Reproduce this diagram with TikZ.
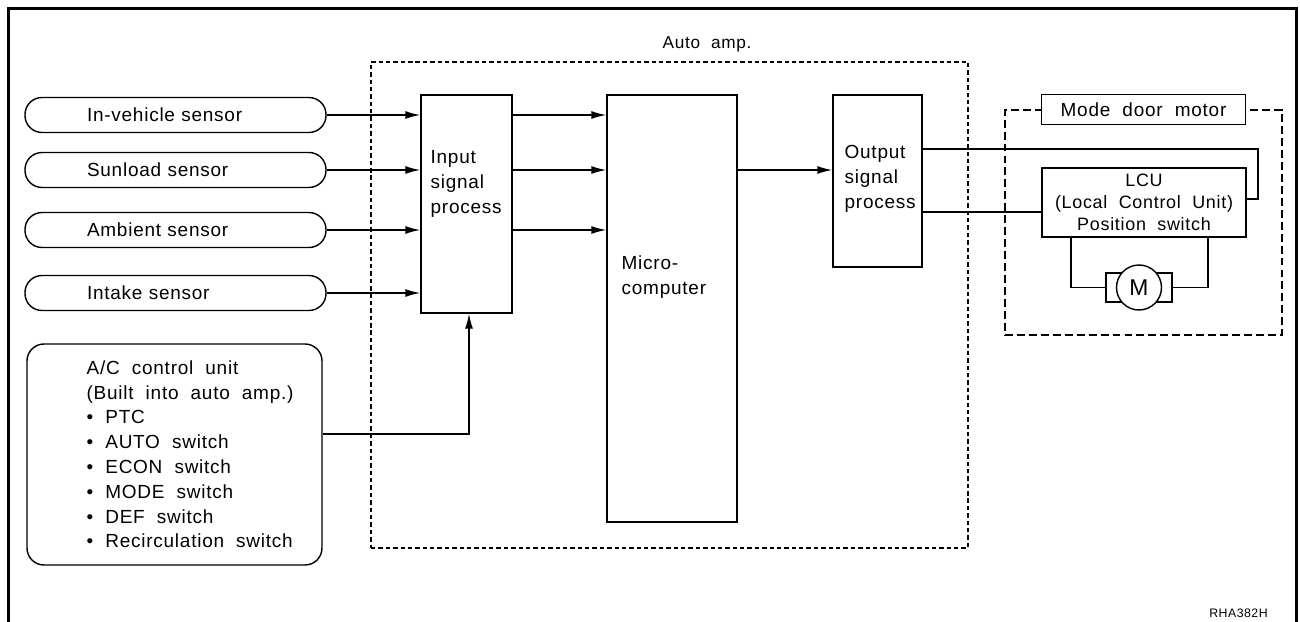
\documentclass[tikz,border=0pt]{standalone}
\usepackage{fontspec}
\setmainfont{Liberation Sans}[WordSpace=2,LetterSpace=4]
\usetikzlibrary{arrows.meta,positioning}

\begin{document}
\begin{tikzpicture}[>={Latex[length=3mm,width=1.6mm]},
  font=\fontsize{10.8}{14.1}\selectfont,
  sensor/.style={draw,line width=0.8pt,rounded corners=0.34cm,minimum height=0.7cm,inner xsep=1.24cm,text width=3.54cm,align=left},
  block/.style={draw,line width=0.8pt,inner sep=0pt},
  txt/.style={align=left,inner sep=0pt},
  wire/.style={line width=0.8pt},
  arrow/.style={->,line width=0.8pt}]
  \useasboundingbox (0,0) rectangle (26,-12.44);
  % frame, open at the bottom
  \draw[line width=1.7pt] (0.17,-12.44) -- (0.17,-0.17) -- (25.93,-0.17) -- (25.93,-12.44);

  % auto amp.
  \node[draw,line width=0.7pt,dash pattern=on 2.5pt off 1.7pt,minimum width=11.94cm,minimum height=9.72cm] (amp) at (13.39,-6.10) {};
  \node[font=\fontsize{9.8}{11}\selectfont] (amplbl) at (14.14,-0.88) {Auto amp.};

  % sensors
  \node[sensor] (s1) at (3.51,-2.30) {In-vehicle sensor};
  \node[sensor] (s2) at (3.51,-3.40) {Sunload sensor};
  \node[sensor] (s3) at (3.51,-4.60) {Ambient sensor};
  \node[sensor] (s4) at (3.51,-5.86) {Intake sensor};

  \node[block,rounded corners=0.34cm,minimum width=5.9cm,minimum height=4.42cm] (acu) at (3.49,-9.09) {};
  \node[txt,below right=0.34cm and 1.2cm of acu.north west] (acutxt) {A/C control unit\\(Built into auto amp.)\\\textbullet\ PTC\\\textbullet\ AUTO switch\\\textbullet\ ECON switch\\\textbullet\ MODE switch\\\textbullet\ DEF switch\\\textbullet\ Recirculation switch};

  % processing blocks
  \node[block,minimum width=1.82cm,minimum height=4.36cm] (inp) at (9.33,-4.08) {};
  \node[txt,below right=1.12cm and 0.2cm of inp.north west] (inptxt) {Input\\signal\\process};
  \node[block,minimum width=2.6cm,minimum height=8.54cm] (mc) at (13.44,-6.17) {};
  \node[txt,below right=3.22cm and 0.3cm of mc.north west] (mctxt) {Micro-\\computer};
  \node[block,minimum width=1.78cm,minimum height=3.44cm] (out) at (17.55,-3.62) {};
  \node[txt,below right=1.02cm and 0.24cm of out.north west] (outtxt) {Output\\signal\\process};

  \draw[arrow] (s1.east) -- (s1.east -| inp.west);
  \draw[arrow] (s2.east) -- (s2.east -| inp.west);
  \draw[arrow] (s3.east) -- (s3.east -| inp.west);
  \draw[arrow] (s4.east) -- (s4.east -| inp.west);
  \draw[arrow] ([yshift=0.41cm]acu.east) -| ([xshift=0.05cm]inp.south);
  \draw[arrow] (inp.east |- s1.east) -- (mc.west |- s1.east);
  \draw[arrow] (inp.east |- s2.east) -- (mc.west |- s2.east);
  \draw[arrow] (inp.east |- s3.east) -- (mc.west |- s3.east);
  \draw[arrow] (mc.east |- s2.east) -- (out.west |- s2.east);

  % mode door motor
  \node[draw,line width=0.7pt,dash pattern=on 4.5pt off 2.3pt,minimum width=5.54cm,minimum height=4.5cm] (mdm) at (22.87,-4.45) {};
  \node[block,fill=white,minimum width=4.08cm,minimum height=0.6cm] (mdlbl) at (mdm.north) {Mode door motor};
  \node[block,minimum width=4.08cm,minimum height=1.38cm,align=center,font=\fontsize{10.2}{12.6}\selectfont] (lcu) at (22.88,-4.05) {LCU\\(Local Control Unit)\\Position switch};
  \node[block,minimum width=1.32cm,minimum height=0.58cm] (mot) at (22.78,-5.75) {};
  \node[draw,circle,fill=white,line width=0.8pt,minimum size=0.9cm,inner sep=0pt,font=\fontsize{13}{13}\selectfont] (m) at (mot) {M};

  \coordinate (bend) at (25.16,-2.98);
  \draw[wire] (out.east |- bend) -- (bend) |- ([yshift=0.07cm]lcu.east);
  \draw[wire] ([yshift=-0.19cm]lcu.west) -- ([yshift=-0.19cm]lcu.west -| out.east);
  \draw[wire] ([xshift=-1.46cm]lcu.south) |- (mot.west);
  \draw[wire] ([xshift=1.28cm]lcu.south) |- (mot.east);

  \node[font=\fontsize{7}{8}\selectfont] (code) at (24.77,-12.26) {RHA382H};
\end{tikzpicture}
\end{document}
